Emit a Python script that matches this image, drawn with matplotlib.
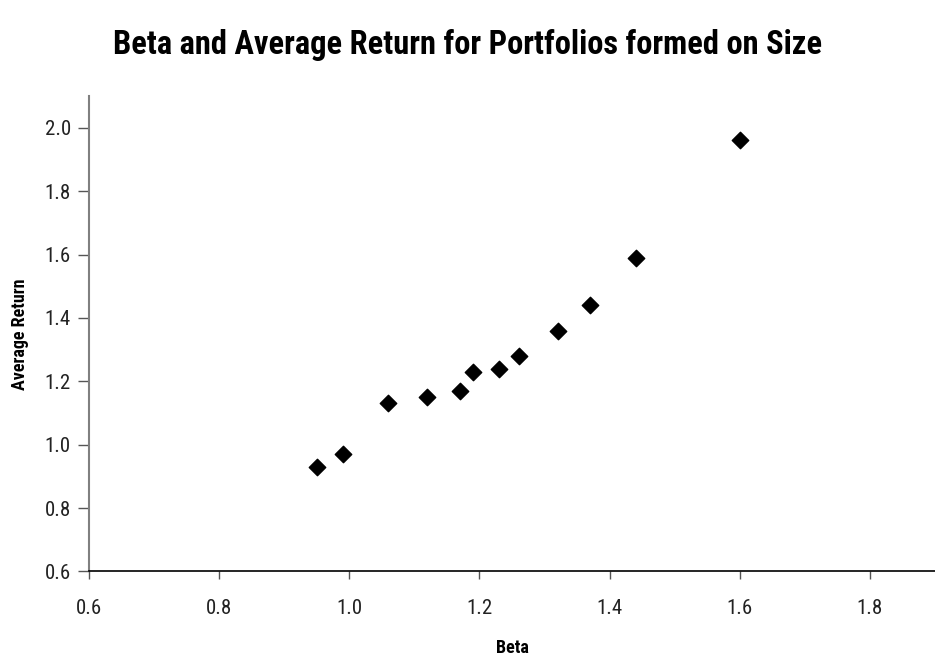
import matplotlib
matplotlib.use("Agg")
import matplotlib.pyplot as plt
from matplotlib import font_manager

# pick a narrow family if one is around
installed = {f.name for f in font_manager.fontManager.ttflist}
candidates = ['Roboto Condensed', 'Liberation Sans Narrow', 'DejaVu Sans Condensed',
              'Open Sans Condensed', 'Roboto', 'DejaVu Sans']
family = next(c for c in candidates if c in installed)
plt.rcParams['font.family'] = [family, 'DejaVu Sans']

beta = [0.95, 0.99, 1.06, 1.12, 1.17, 1.19, 1.23, 1.26, 1.32, 1.37, 1.44, 1.60]
avg_return = [0.93, 0.97, 1.13, 1.15, 1.17, 1.23, 1.24, 1.28, 1.36, 1.44, 1.59, 1.96]
x_ticks = [0.6, 0.8, 1.0, 1.2, 1.4, 1.6, 1.8]
y_ticks = [0.6, 0.8, 1.0, 1.2, 1.4, 1.6, 1.8, 2.0]

fig = plt.figure(figsize=(9.35, 6.58), dpi=100)
ax = fig.add_axes([0.0952, 0.1315, 0.9048, 0.7225])

ax.scatter(beta, avg_return, marker='D', s=70, color='black', zorder=3)

ax.set_xlim(0.6, 1.9)
ax.set_ylim(0.6, 2.1)
ax.set_xticks(x_ticks)
ax.set_yticks(y_ticks)
ax.set_xticklabels([f"{v:.1f}" for v in x_ticks])
ax.set_yticklabels([f"{v:.1f}" for v in y_ticks])

ax.spines['top'].set_visible(False)
ax.spines['right'].set_visible(False)
ax.spines['left'].set_color('#808080')
ax.spines['left'].set_linewidth(1.5)
ax.spines['bottom'].set_color('black')
ax.spines['bottom'].set_linewidth(1.2)
ax.tick_params(axis='both', labelsize=15, width=1, color='#555555', labelcolor='#222222')
ax.tick_params(axis='y', length=8, pad=5)
ax.tick_params(axis='x', length=6, pad=14)

xl = ax.set_xlabel('Beta', fontsize=13, fontweight='bold', va='center')
yl = ax.set_ylabel('Average Return', fontsize=13, fontweight='bold', va='center')
ax.xaxis.set_label_coords(0.5, -0.162)
ax.yaxis.set_label_coords(-0.082, 0.5)
title = fig.text(0.5, 0.932, 'Beta and Average Return for Portfolios formed on Size',
                 ha='center', va='center', fontsize=25, fontweight='bold')

# fit text widths to the reference
renderer = fig.canvas.get_renderer()
w = title.get_window_extent(renderer).width
title.set_fontsize(25 * min(1.0, 710 / w))
h = yl.get_window_extent(renderer).height
yl.set_fontsize(13 * min(1.0, 140 / h))
w = xl.get_window_extent(renderer).width
xl.set_fontsize(13 * min(1.0, 36 / w))

fig.savefig('out.png', dpi=100)
